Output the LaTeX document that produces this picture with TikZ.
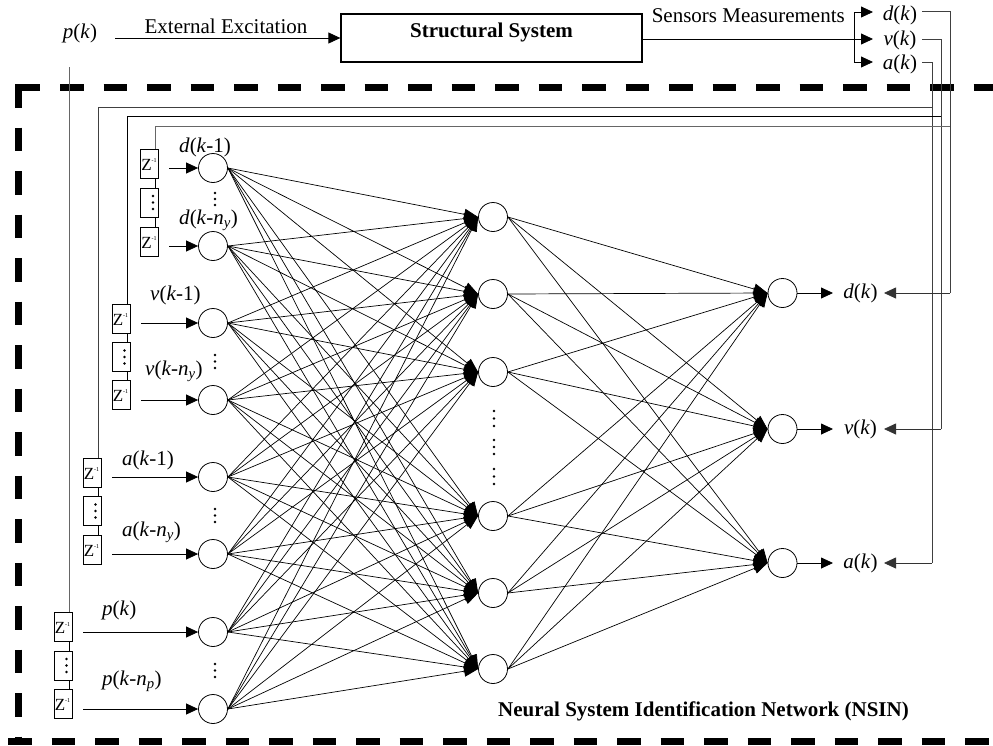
\documentclass[tikz,border=0pt]{standalone}
\usepackage{fontspec}
\setmainfont{Liberation Serif}
\usetikzlibrary{arrows.meta,calc}
\begin{document}
\begin{tikzpicture}[x=1pt,y=-1pt,
  neuron/.style={circle,draw,line width=0.8pt,minimum size=29pt,inner sep=0pt},
  zbox/.style={draw,line width=0.7pt,minimum width=18pt,minimum height=29pt,inner sep=0pt},
  conn/.style={line width=0.7pt,-{Triangle[length=14pt,width=11pt]}},
  bigarrow/.style={line width=0.8pt,-{Triangle[length=12pt,width=11pt]}},
  fbline/.style={line width=0.8pt,black!75},
  lbl/.style={font=\fontsize{21}{23}\selectfont,inner sep=0pt},
  blbl/.style={font=\fontsize{21}{23}\selectfont\bfseries,inner sep=0pt},
  ztext/.style={font=\fontsize{17}{17}\selectfont},
  dotmark/.style={fill=black,circle,inner sep=0pt,minimum size=2.8pt},
  nsin/.style={line width=7pt,dash pattern=on 23.5pt off 20pt},
]
\useasboundingbox (0,0) rectangle (993,745);

% ---------- dashed frame ----------
\draw[nsin] (16.5,87.5) -- (1000,87.5);
\draw[nsin] (8,741) -- (1000,741);
\draw[nsin] (18.5,84) -- (18.5,745);

% ---------- top part ----------
\node[lbl] (pk) at (80,33) {\textit{p}(\textit{k})};
\node[lbl,anchor=base] (exlbl) at (226,33) {External Excitation};
\node[draw,line width=1.3pt,minimum width=301pt,minimum height=48pt,inner sep=0pt] (sys) at (491.5,38) {};
\node[blbl,anchor=base] (systxt) at (491.5,37.5) {Structural System};
\coordinate (exstart) at (115,38);
\draw[bigarrow] (exstart) -- (sys.west);
\node[lbl,anchor=base east] (sens) at (845,22) {Sensors Measurements};

\node[lbl] (td) at (900,15) {\textit{d}(\textit{k})};
\node[lbl] (tv) at (900,40) {\textit{v}(\textit{k})};
\node[lbl] (ta) at (900,64) {\textit{a}(\textit{k})};
\coordinate (tdtip) at (873,12);
\coordinate (tvtip) at (873,39);
\coordinate (tatip) at (873,62);
\coordinate (brd) at (854,12);
\coordinate (bra) at (854,62);
\draw[bigarrow] (sys.east |- tvtip) -- (tvtip);
\draw[line width=0.8pt] (brd) -- (bra);
\draw[bigarrow] (brd) -- (tdtip);
\draw[bigarrow] (bra) -- (tatip);

% ---------- neurons ----------
\foreach \n/\y in {i1/168,i2/246,i3/323,i4/400,i5/477,i6/554,i7/632,i8/709}
  \node[neuron] (\n) at (213,\y) {};
\foreach \n/\y in {h1/217,h2/294,h3/372,h4/516,h5/593,h6/669}
  \node[neuron] (\n) at (493,\y) {};
\foreach \n/\y in {o1/293,o2/429,o3/563}
  \node[neuron] (\n) at (782.5,\y) {};

% connections
\foreach \a in {i1,i2,i3,i4,i5,i6,i7,i8}
  \foreach \b in {h1,h2,h3,h4,h5,h6}
    \draw[conn] (\a.east) -- (\b.west);
\foreach \a in {h1,h2,h3,h4,h5,h6}
  \foreach \b in {o1,o2,o3}
    \draw[conn] (\a.east) -- (\b.west);

% dots between neurons
\foreach \y in {193,199,205,355,361.5,368,509,515.5,522,664,670.5,677}
  \node[dotmark] at (215,\y) {};
\foreach \y in {411,418.5,426,440,447,454,469,476.5,484}
  \node[dotmark] at (494,\y) {};

% ---------- delay boxes ----------
\foreach \g/\x/\ya/\yb/\yc in {d/149.5/163.5/202.5/241.5, v/121/318.5/357/394.5, a/92/472.5/511/549.5, p/63/627/665.5/703.5}{
  \node[zbox] (z\g1) at (\x,\ya) {};
  \node[zbox] (z\g2) at (\x,\yb) {};
  \node[zbox] (z\g3) at (\x,\yc) {};
  \foreach \dy in {-6.5,0,6.5}
    \node[dotmark] at ($(z\g2.center)+(3.5,\dy)$) {};
  \draw[line width=0.7pt] ($(z\g1.south)+(6,0)$) -- ($(z\g2.north)+(6,0)$);
  \draw[line width=0.7pt] ($(z\g2.south)+(6,0)$) -- ($(z\g3.north)+(6,0)$);
}
\foreach \b in {zd1,zd3,zv1,zv3,za1,za3,zp1,zp3}
  \node[ztext,inner sep=0pt] at ($(\b.center)+(-0.5,1)$) {Z\raisebox{0.45em}{\fontsize{6}{6}\selectfont -1}};

% input arrows
\foreach \s/\x/\t in {sd1/169/i1, sd2/169/i2, sv1/141/i3, sv2/141/i4, sa1/112/i5, sa2/112/i6, sp1/83/i7, sp2/83/i8}{
  \coordinate (\s) at (\x,0);
  \draw[bigarrow] (\s |- \t) -- (\t);
}

% input labels
\node[lbl,anchor=west] (ld1) at (179,147) {\textit{d}(\textit{k}-1)};
\node[lbl,anchor=west] (ld2) at (179,220) {\textit{d}(\textit{k}-\textit{n}\textsubscript{\textit{y}})};
\node[lbl,anchor=west] (lv1) at (150,295) {\textit{v}(\textit{k}-1)};
\node[lbl,anchor=west] (lv2) at (145,371) {\textit{v}(\textit{k}-\textit{n}\textsubscript{\textit{y}})};
\node[lbl,anchor=west] (la1) at (122,460) {\textit{a}(\textit{k}-1)};
\node[lbl,anchor=west] (la2) at (122,532) {\textit{a}(\textit{k}-\textit{n}\textsubscript{\textit{y}})};
\node[lbl,anchor=west] (lp1) at (102,610) {\textit{p}(\textit{k})};
\node[lbl,anchor=west] (lp2) at (102,681) {\textit{p}(\textit{k}-\textit{n}\textsubscript{\textit{p}})};

% ---------- outputs ----------
\node[lbl] (od) at (860.5,293) {\textit{d}(\textit{k})};
\node[lbl] (ov) at (860.5,429) {\textit{v}(\textit{k})};
\node[lbl] (oa) at (860.5,563) {\textit{a}(\textit{k})};
\coordinate (otip) at (833,0);
\draw[bigarrow] (o1) -- (otip |- o1);
\draw[bigarrow] (o2) -- (otip |- o2);
\draw[bigarrow] (o3) -- (otip |- o3);

% ---------- feedback lines ----------
\coordinate (fdtop) at (950,11);
\coordinate (fvtop) at (941,39);
\coordinate (fatop) at (932,62);
\coordinate (rtip) at (884,0);
\draw[fbline] (922,11) -- (fdtop) -- (fdtop |- od);
\draw[fbline] (922,39) -- (fvtop) -- (fvtop |- ov);
\draw[fbline] (922,62) -- (fatop) -- (fatop |- oa);
\draw[bigarrow,black!80] (fdtop |- od) -- (rtip |- od);
\draw[bigarrow,black!80] (fvtop |- ov) -- (rtip |- ov);
\draw[bigarrow,black!80] (fatop |- oa) -- (rtip |- oa);

\coordinate (ha) at (932,107);
\coordinate (hv) at (941,116);
\coordinate (hd) at (950,126);
\coordinate (za1top) at ($(za1.north)+(6,0)$);
\coordinate (zv1top) at ($(zv1.north)+(6,0)$);
\coordinate (zd1top) at ($(zd1.north)+(6,0)$);
\coordinate (zp1top) at ($(zp1.north)+(6,0)$);
\draw[fbline] (ha) -- (za1top |- ha) -- (za1top);
\draw[fbline,black] (hv) -- (zv1top |- hv) -- (zv1top);
\draw[fbline,black!60] (hd) -- (zd1top |- hd) -- (zd1top);
\coordinate (pdrop) at (69,67);
\draw[fbline,black!60] (pdrop) -- (zp1top);

% ---------- caption ----------
\node[blbl,anchor=west] (cap) at (498,711) {Neural System Identification Network (NSIN)};
\end{tikzpicture}
\end{document}
